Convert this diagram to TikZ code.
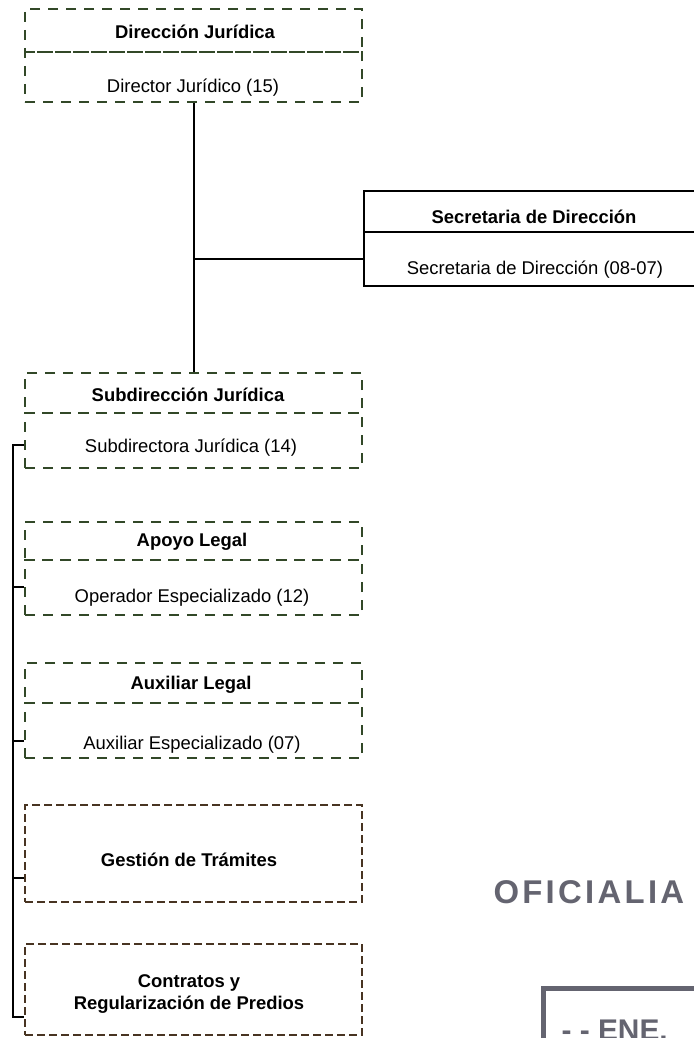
\documentclass[tikz,border=0pt]{standalone}
\usepackage{fontspec}
\setmainfont{Liberation Sans}
\usetikzlibrary{positioning}
\definecolor{dashgreen}{RGB}{50,72,40}
\definecolor{dashbrown}{RGB}{72,52,34}
\definecolor{stampgray}{RGB}{100,100,112}

\tikzset{
  cell/.style={draw=dashgreen, line width=2bp, dash pattern=on 10bp off 8bp, minimum width=337bp, inner sep=0pt},
  cellb/.style={draw=dashbrown, line width=2bp, dash pattern=on 8bp off 4bp, minimum width=337bp, inner sep=0pt},
  solidcell/.style={draw=black, line width=2bp, minimum width=340bp, inner sep=0pt},
  head/.style={font=\fontsize{18.5}{22}\selectfont\bfseries},
  body/.style={font=\fontsize{18.5}{22}\selectfont},
  link/.style={line width=2bp},
}

\begin{document}
\begin{tikzpicture}
  \useasboundingbox (0bp,0bp) rectangle (694bp,-1038bp);
  \clip (0bp,0bp) rectangle (694bp,-1038bp);

  % Direccion
  \node (dirHead) at (193.5bp, -30.5bp) [cell, minimum height=43bp] {};
  \node (dirBody) at (193.5bp, -77bp) [cell, minimum height=50bp] {};
  \node (dirHeadTxt) at (195bp, -32bp) [head] {Dirección Jurídica};
  \node (dirBodyTxt) at (193bp, -88bp) [body] {Director Jurídico (15)};

  % Secretaria
  \node (secHead) at (534bp, -211.5bp) [solidcell, minimum height=41bp] {};
  \node (secBody) at (534bp, -259bp) [solidcell, minimum height=54bp] {};
  \node (secHeadTxt) at (534bp, -217bp) [head] {Secretaria de Dirección};
  \node (secBodyTxt) at (535bp, -270bp) [body] {Secretaria de Dirección (08-07)};

  % Subdireccion
  \node (subHead) at (193.5bp, -393bp) [cell, minimum height=40bp] {};
  \node (subBody) at (193.5bp, -440.5bp) [cell, minimum height=55bp] {};
  \node (subHeadTxt) at (188bp, -395bp) [head] {Subdirección Jurídica};
  \node (subBodyTxt) at (191bp, -448bp) [body] {Subdirectora Jurídica (14)};

  % Apoyo
  \node (apoHead) at (193.5bp, -541bp) [cell, minimum height=38bp] {};
  \node (apoBody) at (193.5bp, -587.5bp) [cell, minimum height=55bp] {};
  \node (apoHeadTxt) at (192bp, -542bp) [head] {Apoyo Legal};
  \node (apoBodyTxt) at (192bp, -598bp) [body] {Operador Especializado (12)};

  % Auxiliar
  \node (auxHead) at (193.5bp, -683bp) [cell, minimum height=40bp] {};
  \node (auxBody) at (193.5bp, -730.5bp) [cell, minimum height=55bp] {};
  \node (auxHeadTxt) at (191bp, -685bp) [head] {Auxiliar Legal};
  \node (auxBodyTxt) at (192bp, -745bp) [body] {Auxiliar Especializado (07)};

  % Gestion y Contratos
  \node (gesBox) at (193.5bp, -853.5bp) [cellb, minimum height=97bp] {};
  \node (gesTxt) at (189bp, -860bp) [head] {Gestión de Trámites};
  \node (conBox) at (193.5bp, -989.5bp) [cellb, minimum height=91bp] {};
  \node (conTxt) at (189bp, -994bp) [head, align=center] {Contratos y\\Regularización de Predios};

  % Edges
  \draw[link] (dirBody.south) -- (subHead.north);
  \draw[link] (dirBody.south |- secBody.west) -- (secBody.west);

  \coordinate (busTop) at (13bp, -445bp);
  \coordinate (busBot) at (13bp, -1017bp);
  \draw[link] (subBody.west |- busTop) -- (busTop) -- (busBot) -- (conBox.west |- busBot);
  \foreach \n/\y in {apoBody/587, auxBody/741, gesBox/878}
    \draw[link] (13bp, -\y bp) -- (\n.west |- 0, -\y bp);

  % Stamp
  \node (stampTop) at (490bp, -892bp) [anchor=west, text=stampgray, font=\fontsize{33}{36}\selectfont\bfseries\addfontfeatures{LetterSpace=10}] {OFICIALIA D};
  \draw[stampgray, line width=5bp] (543bp, -1040bp) -- (543bp, -988bp) -- (700bp, -988bp);
  \node (stampDate) at (558bp, -1030bp) [anchor=west, text=stampgray, font=\fontsize{30}{34}\selectfont\bfseries] {- - ENE.};
\end{tikzpicture}
\end{document}
